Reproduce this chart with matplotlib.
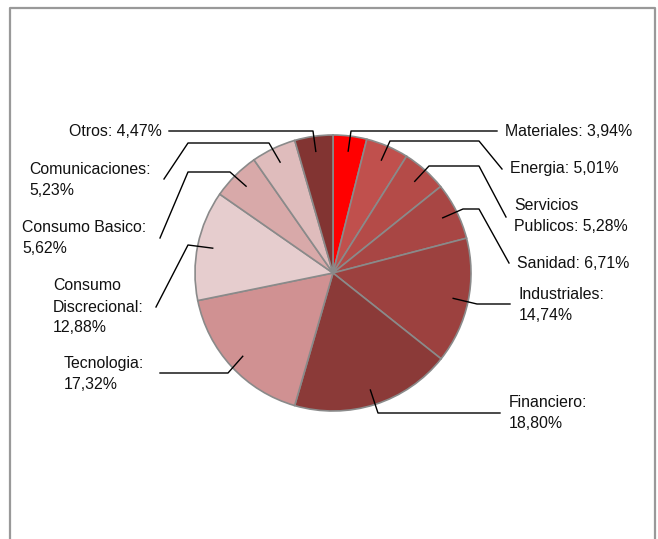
import numpy as np
import matplotlib
matplotlib.use("Agg")
import matplotlib.pyplot as plt
from matplotlib.lines import Line2D

# Sector weights of the portfolio (percent), clockwise from 12 o'clock
sectors = ["Materiales", "Energia", "Servicios\nPublicos", "Sanidad", "Industriales",
           "Financiero", "Tecnologia", "Consumo\nDiscrecional", "Consumo Basico",
           "Comunicaciones", "Otros"]
weights = [3.94, 5.01, 5.28, 6.71, 14.74, 18.80, 17.32, 12.88, 5.62, 5.23, 4.47]
colors = ["#FF0000", "#C0504D", "#B44B48", "#A84644", "#9C413F", "#8B3A38",
          "#D09192", "#E6CDCE", "#D8A9A9", "#DFBCBC", "#823432"]

# label text layout: (format, text x, text y) in pixels (y from top)
label_fmt = [
    ("{}: {}", 505, 131),
    ("{}: {}", 510, 169),
    ("{}: {}", 514, 216),
    ("{}: {}", 517, 264),
    ("{}:\n{}", 519, 305),
    ("{}:\n{}", 509, 413),
    ("{}:\n{}", 64, 374),
    ("{}:\n{}", 53, 307),
    ("{}:\n{}", 22, 238),
    ("{}:\n{}", 29, 180),
    ("{}: {}", 69, 131),
]
# leader line bend points (pixels, y from top) following the anchor on the slice
leader_paths = [
    [(351, 131), (497, 131)],
    [(390, 141), (479, 141), (502, 169)],
    [(429, 166), (479, 166), (506, 217)],
    [(463, 209), (479, 209), (509, 263)],
    [(477, 304), (510, 304)],
    [(378, 413), (500, 413)],
    [(228, 373), (160, 373)],
    [(188, 245), (156, 307)],
    [(230, 172), (188, 172), (160, 238)],
    [(269, 143), (188, 143), (164, 179)],
    [(313, 131), (169, 131)],
]

W, H = 658, 539
plt.rcParams["font.family"] = ["Liberation Sans", "DejaVu Sans"]
fig = plt.figure(figsize=(W / 100, H / 100), dpi=100)
ax = fig.add_axes([0, 0, 1, 1])

cx, cy, r = 333, H - 273, 138
ax.pie(weights, colors=colors, startangle=90, counterclock=False,
       center=(cx, cy), radius=r, frame=True,
       wedgeprops=dict(edgecolor="#8a8a8a", linewidth=1.2))
ax.set_xlim(0, W)
ax.set_ylim(0, H)
ax.axis("off")

cum = np.cumsum([0] + weights[:-1])
for i, (name, w) in enumerate(zip(sectors, weights)):
    mid = (cum[i] + w / 2) / 100 * 360
    theta = np.deg2rad(90 - mid)
    anchor = (cx + 0.89 * r * np.cos(theta), cy + 0.89 * r * np.sin(theta))
    pts = [anchor] + [(x, H - y) for x, y in leader_paths[i]]
    xs, ys = zip(*pts)
    ax.add_line(Line2D(xs, ys, color="black", linewidth=1.0))
    fmt, tx, ty = label_fmt[i]
    val = f"{w:.2f}".replace(".", ",") + "%"
    ax.text(tx, H - ty, fmt.format(name, val), ha="left", va="center",
            fontsize=11.4, linespacing=1.5, color="#111111")

# outer frame
ax.add_line(Line2D([10, 10, 655, 655], [0, H - 8, H - 8, 0],
                   color="#999999", linewidth=1.6))

fig.savefig("out.png", dpi=100)
